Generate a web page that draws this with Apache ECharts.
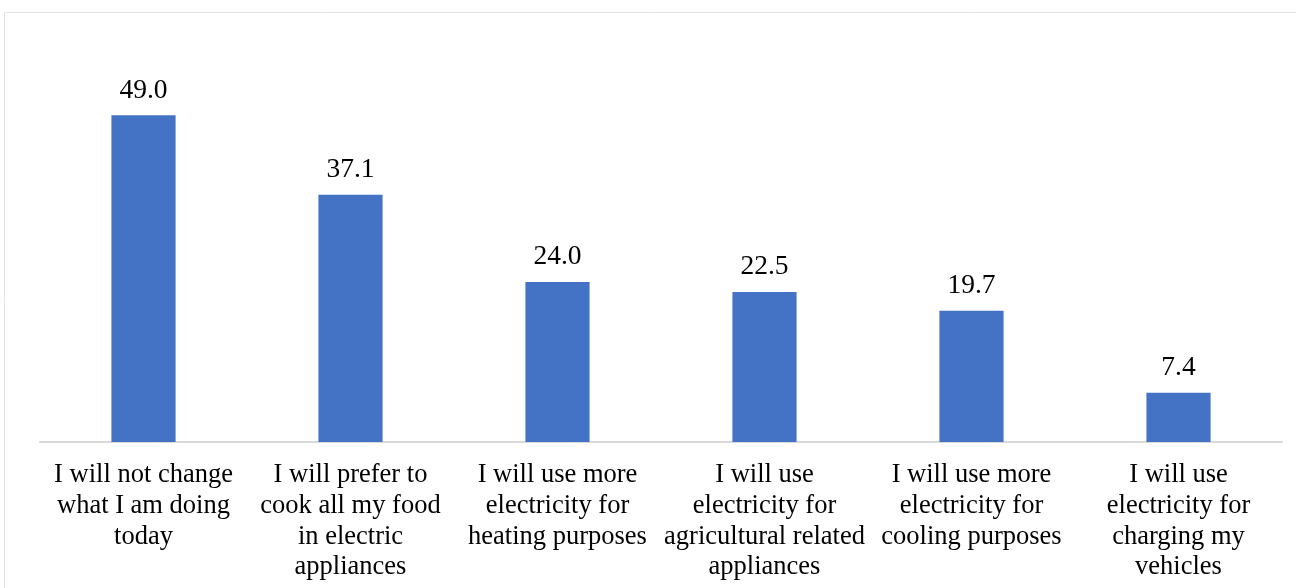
<!DOCTYPE html>
<html>
<head>
<meta charset="utf-8">
<script src="https://cdn.jsdelivr.net/npm/echarts@6/dist/echarts.min.js"></script>
<style>
  html, body { margin: 0; padding: 0; background: #ffffff; }
  #chart { width: 1296px; height: 588px; }
</style>
</head>
<body>
<div id="chart"></div>
<script>
// Planned changes in electricity use (share of respondents, %)
const categories = [
  'I will not change\nwhat I am doing\ntoday',
  'I will prefer to\ncook all my food\nin electric\nappliances',
  'I will use more\nelectricity for\nheating purposes',
  'I will use\nelectricity for\nagricultural related\nappliances',
  'I will use more\nelectricity for\ncooling purposes',
  'I will use\nelectricity for\ncharging my\nvehicles'
];
const values = [49.0, 37.1, 24.0, 22.5, 19.7, 7.4];

const chart = echarts.init(document.getElementById('chart'), null, { renderer: 'canvas' });
const serif = '"Liberation Serif", "Times New Roman", serif';

chart.setOption({
  backgroundColor: '#ffffff',
  animation: false,
  graphic: [{
    type: 'rect',
    shape: { x: 4.5, y: 12.5, width: 1300, height: 600 },
    style: { fill: 'none', stroke: '#e3e3e3', lineWidth: 1 }
  }],
  grid: { left: 40, right: 14, top: 42, bottom: 146 },
  xAxis: {
    type: 'category',
    data: categories,
    axisLine: { show: true, lineStyle: { color: '#d9d9d9', width: 2 } },
    axisTick: { show: false },
    axisLabel: {
      interval: 0,
      margin: 18,
      color: '#000000',
      fontFamily: serif,
      fontSize: 26.5,
      lineHeight: 30.7
    }
  },
  yAxis: {
    type: 'value',
    min: 0,
    max: 60,
    show: false,
    splitLine: { show: false }
  },
  series: [{
    type: 'bar',
    data: values,
    barWidth: '31%',
    itemStyle: { color: '#4472c4' },
    label: {
      show: true,
      position: 'top',
      distance: 11,
      color: '#000000',
      fontFamily: serif,
      fontSize: 27.5,
      formatter: p => p.value.toFixed(1)
    }
  }]
});
</script>
</body>
</html>
